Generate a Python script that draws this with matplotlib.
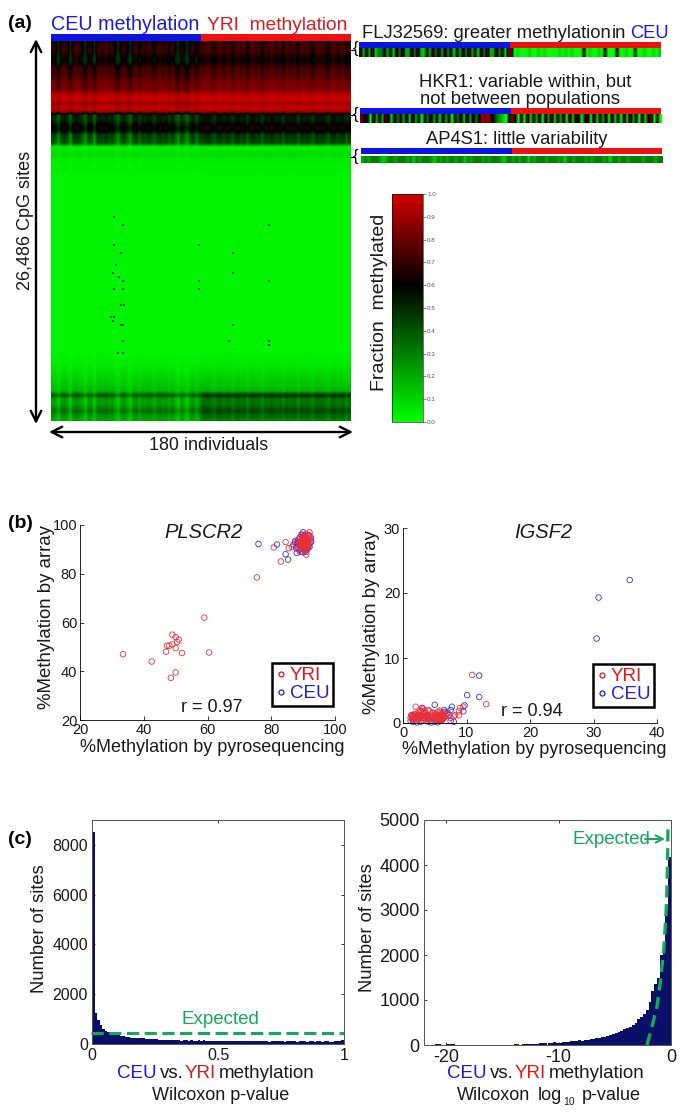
import numpy as np
import matplotlib
matplotlib.use('Agg')
import matplotlib.pyplot as plt
from matplotlib.colors import LinearSegmentedColormap, Normalize
from matplotlib.cm import ScalarMappable
from matplotlib.lines import Line2D

plt.rcParams['font.family'] = ['Liberation Sans', 'DejaVu Sans']
W, H = 685, 1114

# heatmap, one row is about 1/95 of the sites
row_levels = [.63, .66, .66, .62, .58, .60, .68, .72, .72, .76, .80, .80, .84, .96, .97, .90, .95, .93,
              .50, .48, .54, .60, .58, .42, .40, .38,
              .04, .06, .09, .05, .04, .04, .04, .03, .03, .03, .03, .03, .03, .03,
              .03, .03, .03, .03, .03, .03, .03, .03, .03, .03, .03, .03, .03, .03,
              .03, .03, .03, .03, .03, .03, .03, .03, .03, .03, .03, .03, .03, .03,
              .03, .03, .03, .03, .03, .03, .03, .03, .03, .03, .03, .04, .05, .06,
              .07, .09, .10, .12, .14, .16, .38, .22, .20, .25, .32, .24, .20]
row_spread = [.14, .16, .16, .14, .12, .12, .10, .09, .08, .07, .07, .06, .06, .03, .03, .05, .03, .03,
              .12, .12, .12, .10, .10, .14, .14, .14,
              .01, .01, .01, .01, .01, .01, .01, .00, .00, .00, .00, .00, .00, .00,
              .00, .00, .00, .00, .00, .00, .00, .00, .00, .00, .00, .00, .00, .00,
              .00, .00, .00, .00, .00, .00, .00, .00, .00, .00, .00, .00, .00, .00,
              .00, .00, .00, .00, .00, .00, .00, .00, .00, .00, .01, .01, .01, .02,
              .02, .03, .03, .04, .04, .05, .10, .10, .10, .10, .10, .10, .08]
col_shift = [.2, .1, -1, .2, .4, .1, -1, .3, .5, .2, -.2, -1, .2, .1, -1, .3, .4, .2, .5, .1,
             .3, -.4, -1, .1, .3, -.3, -1, .2, .4, -.3, .3, .1, .4, .2, -.3, .3, .4, .2, .3, -.2,
             .4, -.4, -1, .2, -.4, -1, .1, .3, -.5, .2, .4, .5, .6, .3, -.1, .5, .6, .2, .4, .5,
             -.1, .4, .6, .2, .5, -.2, .5, .6, .3, .4, -.2, .5, .3, .6, .4, .2, .5, -.1, .6, .3,
             .4, .5, -.2, .6, .3, .5, .2, -.1, .6, .4, .5, .3, -.2, .5, .6, .2, .4, .5, -.1, .3]
speck_individual = [38, 43, 38, 42, 37, 43, 43, 42, 38, 37, 43, 42, 38, 43, 89, 89, 89, 109, 109, 109, 107, 131, 131, 131, 131, 43, 40, 36, 41, 44, 39]
speck_row = [44, 46, 51, 53, 58, 60, 62, 66, 69, 70, 71, 71, 62, 75, 51, 60, 62, 53, 58, 71, 75, 46, 60, 75, 76, 78, 78, 69, 59, 66, 56]

pop_sizes = [90, 90]
pop_names = ['CEU', 'YRI']
pop_colors = ['#0b14e6', '#f01010']

# gene strips, a digit is the methylated fraction in tenths
strip_flj = '7262813362617382273821627382736162738261738227361880100010010100001010100060100106000600100500100101'
strip_hkr = '8670826286173627182606382617260637182736989753210786070816270728162708176067081627081607182607168060'
strip_ap4 = '2323332123323332313233321323233233132333232333213323233132333233323133233323233323133233233332333233'

# panel b
pl_yri_x = [33.5, 42.5, 47, 47.3, 48, 49, 49, 50, 50.5, 51, 50, 52, 50, 48.5, 59, 60.5, 75.5, 83, 80.8, 84.5, 85.5, 86.5, 87.5, 88, 88.5, 89, 91,
            89, 89.5, 90, 90.5, 91, 91.5, 92, 89.3, 89.8, 90.3, 90.8, 91.3, 91.8, 89.5, 90, 90.5, 91, 91.5, 92, 89.2, 89.7, 90.2, 90.7, 91.2,
            91.7, 89, 89.6, 90.1, 90.6, 91.1, 91.6, 92.2, 92.5, 88.7, 89.4, 90, 90.4, 91, 91.4, 89.9, 90.6,
            89.6, 90.2, 90.8, 91.4, 90, 90.6, 91.2, 89.8, 90.4, 91, 90.1, 90.7, 91.3, 89.7, 90.3, 90.9, 91.5, 90.5, 91.1, 90.2]
pl_yri_y = [47, 44, 48, 50.5, 50.5, 51, 55, 54, 52, 53, 49.5, 47.5, 39.5, 37.3, 62, 47.7, 78.5, 85, 90.8, 93, 90.5, 91, 93.5, 92, 90, 89, 87.8,
            91, 92, 93, 94, 95, 96, 97, 90.5, 91.5, 92.5, 93.5, 94.5, 95.5, 94, 95, 96, 92, 93, 94, 93, 92.5, 90.5, 89.5, 90, 91, 94.5, 96,
            91, 90.5, 91, 92, 95.5, 93.5, 92.5, 92.8, 94, 93.2, 93.8, 92.8, 92.2, 92.6,
            93.6, 91.8, 92.1, 92.7, 93.4, 94.4, 93.1, 94.8, 91.2, 91.6, 92.3, 94.6, 91.9, 92, 93.7, 94.2, 91.4, 95.2, 94, 92.9]
pl_ceu_x = [76, 81.8, 84.5, 85.3, 88, 87, 87.5, 88, 89, 90, 90.5, 92.5, 88, 88.5, 89, 89.5, 90, 90.5, 91, 91.5, 92, 92.5, 88.5, 89.5, 90.5, 91.5, 90, 91, 92, 87.8]
pl_ceu_y = [92.2, 92, 88, 85.8, 88.5, 92, 93, 91, 90, 97, 96, 94.5, 92.5, 94, 95, 89, 88.8, 89.5, 90, 90.5, 91, 93, 93, 96, 95.5, 96, 91, 89, 92.5, 90.5]

ig_yri_x = [10.9, 13.1, 9.5, 9, 8.8, 8.8, 8, 2, 3, 4, 1.2, 1.4, 1.6, 1.8, 2, 2.2, 2.4, 2.6, 2.8, 3, 3.2, 3.4, 3.6, 3.8, 4, 4.2, 4.5, 4.8,
            5, 5.2, 5.4, 5.6, 5.8, 6, 6.2, 6.4, 6.6, 1.3, 1.7, 2.1, 2.5, 2.9, 3.3, 3.7, 4.1, 5.1, 5.3, 5.5, 5.7, 5.9, 6.1, 6.3, 1.5, 1.9, 2.3, 2.7,
            3.1, 3.5, 3.9, 4.3, 5.2, 5.6, 6, 6.4, 7, 7.5, 8.2, 4.7, 3.2, 2.6, 5.8, 6.8,
            1.4, 1.6, 1.8, 2, 2.2, 2.4, 2.6, 2.8, 3.4, 3.6, 3.8, 4, 5, 5.2, 5.4, 5.6, 5.8, 6, 6.2, 1.5, 1.9, 2.3, 5.1, 5.5, 5.9, 6.3]
ig_yri_y = [7.4, 2.9, 2.5, 2.3, 1.8, 1.2, 1, 2.5, 2.3, 2, 0.8, 1.1, 0.6, 1.4, 0.9, 1.2, 0.5, 1.6, 0.8, 1.1, 0.4, 1.5, 0.9, 1.3, 0.6, 1.8, 0.3, 1.1,
            0.7, 1.4, 0.4, 1.2, 0.8, 1.6, 0.5, 1.1, 0.9, 1.2, 0.9, 0.7, 1.3, 1.8, 0.8, 1, 0.5, 1.1, 0.9, 1.7, 0.3, 1.3, 0.7, 1.5, 0.7, 1.1, 1, 0.7,
            1.4, 0.6, 1.1, 1.3, 0.5, 0.9, 0.4, 0.7, 1.5, 0.8, 1.2, 1.6, 2.2, 1.9, 1.9, 1.1,
            1, 0.8, 1.1, 0.7, 1, 0.8, 1.2, 1, 0.7, 1.1, 0.9, 0.8, 1.1, 0.6, 0.9, 0.7, 1.1, 0.9, 0.6, 0.5, 1.3, 0.6, 0.4, 1.2, 0.5, 0.8]
ig_ceu_x = [30.5, 30.8, 35.7, 12, 10.1, 12, 9.7, 9.5, 5, 7.7, 7.5, 7, 6.5, 7.5, 8, 5, 1.2, 1.6, 2.2, 2.8, 3.4, 4, 4.6, 5.4, 6, 6.6, 7.2, 3, 4.4, 1.5]
ig_ceu_y = [13, 19.3, 22, 7.3, 4.3, 4, 2.7, 1.8, 2.8, 2.5, 2, 1.6, 2, 0.3, 0.2, 0.2, 0.3, 0.2, 0.1, 0.2, 1.9, 0.2, 1.5, 0.1, 0.3, 1.7, 1.2, 2.3, 0.1, 1.2]

# panel c
p_bins = np.array([8500, 1250, 950, 750, 620, 540, 480, 430, 400, 370, 350, 330, 310, 290, 270, 260, 250, 240, 235, 230,
                   225, 220, 220, 215, 210, 190, 170, 165, 160, 155, 150, 165, 150, 145, 160, 140, 145, 155, 135, 150,
                   140, 130, 145, 135, 150, 130, 125, 140, 130, 120, 135, 125, 130, 115, 125, 130, 110, 120, 125, 115,
                   110, 125, 115, 105, 120, 110, 115, 105, 120, 110, 100, 115, 110, 105, 120, 110, 100, 115, 105, 125,
                   110, 100, 115, 105, 110, 100, 120, 105, 100, 110, 115, 100, 105, 110, 100, 95, 110, 105, 120, 170])
p_expected = [450, 450]
logp_bins = np.array([5, 5, 10, 5, 20, 15, 5, 10, 30, 15, 20, 5, 10, 5, 5, 10, 5, 0, 5, 5, 0, 5,
                      5, 0, 5, 5, 5, 5, 10, 5, 10, 5, 25, 15, 10, 20, 25, 20, 25, 30, 30, 35,
                      40, 35, 50, 45, 60, 55, 50, 65, 70, 75, 85, 80, 100, 105, 100, 115, 120, 125, 135, 150,
                      165, 185, 180, 200, 215, 235, 265, 290, 320, 345, 370, 395, 440, 500, 570, 630, 690, 780,
                      950, 1200, 1350, 1500, 2000, 2300, 3100, 4180])
log_exp_x = [-2.14, -1.7, -1.25, -0.95, -0.65, -0.45, -0.36, -0.3, -0.27]
log_exp_y = [0, 400, 850, 1400, 2100, 2900, 3450, 4200, 4850]

green = '#16a85a'
navy = '#0a0f68'
red = '#e8141c'
blue = '#2020e0'
ink = '#1a1a1a'

fig = plt.figure(figsize=(W / 100, H / 100), dpi=100)


def axes_px(x0, y0, x1, y1):
    return fig.add_axes([x0 / W, 1 - y1 / H, (x1 - x0) / W, (y1 - y0) / H])


def pop_bar(x0, y0, x1, y1):
    a = axes_px(x0, y0, x1, y1)
    left = 0
    for n, c in zip(pop_sizes, pop_colors):
        a.barh(0, n, left=left, height=1, color=c)
        left += n
    a.set_xlim(0, sum(pop_sizes))
    a.set_ylim(-.5, .5)
    a.axis('off')


cm = LinearSegmentedColormap.from_list('gbr', [(0, (0, 1, 0)), (.6, (0, 0, 0)), (1, (.82, 0, 0))])
norm = Normalize(0, 1)

# (a) heatmap
ax = axes_px(51, 41, 351, 421)
mat = np.array(row_levels)[:, None] + np.array(row_spread)[:, None] * np.array(col_shift)[None, :]
mat[88:, 50:] += .08
ax.imshow(np.clip(mat, 0, 1), cmap=cm, norm=norm, aspect='auto', interpolation='bilinear', extent=[0, 180, 95, 0])
ax.scatter(speck_individual, speck_row, s=4, marker='s', color='#0a5a0a', lw=0)
ax.axis('off')
pop_bar(51, 34, 351, 41)

for vals, bar, cell in [(strip_flj, (359, 42, 661, 48), (359, 48, 661, 57)),
                        (strip_hkr, (360, 108, 661, 114), (360, 114, 661, 123)),
                        (strip_ap4, (361, 148, 662, 154), (361, 156, 662, 163))]:
    pop_bar(*bar)
    a = axes_px(*cell)
    a.imshow([[int(v) / 10 for v in vals]], cmap=cm, norm=norm, aspect='auto', interpolation='bilinear')
    a.axis('off')

cax = axes_px(392, 194, 423, 422)
cb = fig.colorbar(ScalarMappable(norm, cm), cax=cax, ticks=np.arange(0, 1.01, .1))
cb.ax.tick_params(labelsize=4.5, length=2, width=.5, colors='#555555', pad=1)
cb.outline.set_linewidth(.4)

# (b) scatters
for box, xr, xt, yr, yt, yri, ceu, leg in [
        ((80, 525, 335, 720), (20, 100), range(20, 101, 20), (20, 100), range(20, 101, 20),
         (pl_yri_x, pl_yri_y), (pl_ceu_x, pl_ceu_y), (.992, .072)),
        ((403, 528, 657, 723), (0, 40), range(0, 41, 10), (0, 30), range(0, 31, 10),
         (ig_yri_x, ig_yri_y), (ig_ceu_x, ig_ceu_y), (.988, .082))]:
    a = axes_px(*box)
    a.scatter(*ceu, s=16, facecolor='none', edgecolor='#3030e8', lw=.6, clip_on=False)
    a.scatter(*yri, s=16, facecolor='none', edgecolor='#e83038', lw=.6, clip_on=False)
    a.set_xlim(*xr)
    a.set_ylim(*yr)
    a.set_xticks(list(xt))
    a.set_yticks(list(yt))
    a.spines[['top', 'right']].set_visible(False)
    a.spines[['left', 'bottom']].set_linewidth(.6)
    a.tick_params(direction='in', length=3, width=.6, labelsize=10.5, pad=2, colors=ink)
    hs = [Line2D([], [], ls='', marker='o', ms=3.6, mfc='none', mec=red, mew=.9),
          Line2D([], [], ls='', marker='o', ms=3.6, mfc='none', mec=blue, mew=.9)]
    lg = a.legend(hs, ['YRI', 'CEU'], loc='lower right', bbox_to_anchor=leg, fontsize=13.5, frameon=True, fancybox=False,
                  edgecolor='black', framealpha=1, handletextpad=.15, borderpad=.2, labelspacing=.05, handlelength=.6,
                  borderaxespad=0)
    lg.get_frame().set_linewidth(1.8)
    lg.get_texts()[0].set_color(red)
    lg.get_texts()[1].set_color(blue)

# (c) histograms
a = axes_px(92, 820, 344, 1044)
a.bar(np.arange(100) / 100, p_bins, width=.01, align='edge', color=navy, lw=0)
a.plot([-.005, 1], p_expected, color=green, lw=2.2, ls=(0, (4, 1.8)), clip_on=False)
a.set_xlim(0, 1)
a.set_ylim(0, 9000)
a.set_xticks([0, .5, 1], ['0', '0.5', '1'])
a.set_yticks([0, 2000, 4000, 6000, 8000])
a.tick_params(labelsize=11.5)

b = axes_px(424, 820, 671, 1045)
b.bar(-22 + np.arange(len(logp_bins)) * .25, logp_bins, width=.25, align='edge', color=navy, lw=0)
b.plot(log_exp_x, log_exp_y, color=green, lw=2.4, ls=(0, (3.6, 2)), zorder=4)
b.set_xlim(-22, 0)
b.set_ylim(0, 5000)
b.set_xticks([-20, -10, 0], ['-20', '-10', '0'])
b.set_yticks(range(0, 5001, 1000))
b.tick_params(labelsize=13)
for c in (a, b):
    c.tick_params(direction='in', length=2.5, width=.6, pad=3, top=True, right=True, colors=ink)
    for s in c.spines.values():
        s.set_linewidth(.7)
        s.set_color('#555555')

# text and arrows go on one sheet in pixel coordinates
t = fig.add_axes([0, 0, 1, 1], facecolor='none')
t.set_xlim(0, W)
t.set_ylim(H, 0)
t.axis('off')


def say(x, y, s, size=13.5, color=ink, ha='left', **kw):
    t.text(x, y, s, fontsize=size, color=color, ha=ha, va='center', **kw)


for x, y, s in [(8, 23, '(a)'), (8, 523, '(b)'), (8, 839, '(c)')]:
    say(x, y, s, 14, 'black', fontweight='bold')
say(51, 25, 'CEU methylation', 14.2, '#1a1ae0')
say(207, 25, 'YRI  methylation', 13.8, '#e01818')
say(362, 33, 'FLJ32569: greater methylation', 13.2)
say(612, 33, 'in', 13.2)
say(630, 33, 'CEU', 13.2, '#1a1ae0')
say(525, 82, 'HKR1: variable within, but', 13.3, ha='center')
say(520, 99, 'not between populations', 13.3, ha='center')
say(517, 140, 'AP4S1: little variability', 13.2, ha='center')
say(26, 220, '26,486 CpG sites', 13, ha='center', rotation=90)
say(209, 446, '180 individuals', 12.9, ha='center')
say(380, 302, 'Fraction  methylated', 14, ha='center', rotation=90)
for y in [50, 115, 157]:
    t.plot([351, 354], [y, y], color='black', lw=.8)
    say(353, y - 1, '{', 12, 'black')
for p, q in [((36, 39), (36, 424)), ((49, 432), (353, 432))]:
    t.annotate('', xy=p, xytext=q, arrowprops=dict(arrowstyle='<->', lw=1.7, color='black', mutation_scale=19, shrinkA=0, shrinkB=0))

say(204, 532, 'PLSCR2', 14.5, ha='center', style='italic')
say(543, 533, 'IGSF2', 14.5, ha='center', style='italic')
say(212, 708, 'r = 0.97', 13, ha='center')
say(532, 711, 'r = 0.94', 13, ha='center')
say(47, 617, '%Methylation by array', 13.4, ha='center', rotation=90)
say(372, 622, '%Methylation by array', 13.4, ha='center', rotation=90)
say(212, 748, '%Methylation by pyrosequencing', 13, ha='center')
say(534, 750, '%Methylation by pyrosequencing', 13, ha='center')

say(40, 929, 'Number of sites', 13.2, ha='center', rotation=90)
say(368, 928, 'Number of sites', 13.2, ha='center', rotation=90)
say(220, 1020, 'Expected', 13.5, green, ha='center')
say(573, 840, 'Expected', 13.5, green)
t.annotate('', xy=(665, 839), xytext=(645, 839), arrowprops=dict(arrowstyle='->', lw=1.4, color=green, mutation_scale=13, shrinkA=0, shrinkB=0))
for x0 in (117, 447):
    say(x0, 1073, 'CEU', 13.5, '#1a1ae0')
    say(x0 + 43, 1073, 'vs.', 13.5)
    say(x0 + 68, 1073, 'YRI', 13.5, '#e01818')
    say(x0 + 102, 1073, 'methylation', 13.5)
say(221, 1096, 'Wilcoxon p-value', 13, ha='center')
say(457, 1096, 'Wilcoxon', 13)
say(538, 1096, 'log', 13)
say(563, 1102, '10', 7.5)
say(582, 1096, 'p-value', 13)

fig.savefig('out.png', dpi=100)
